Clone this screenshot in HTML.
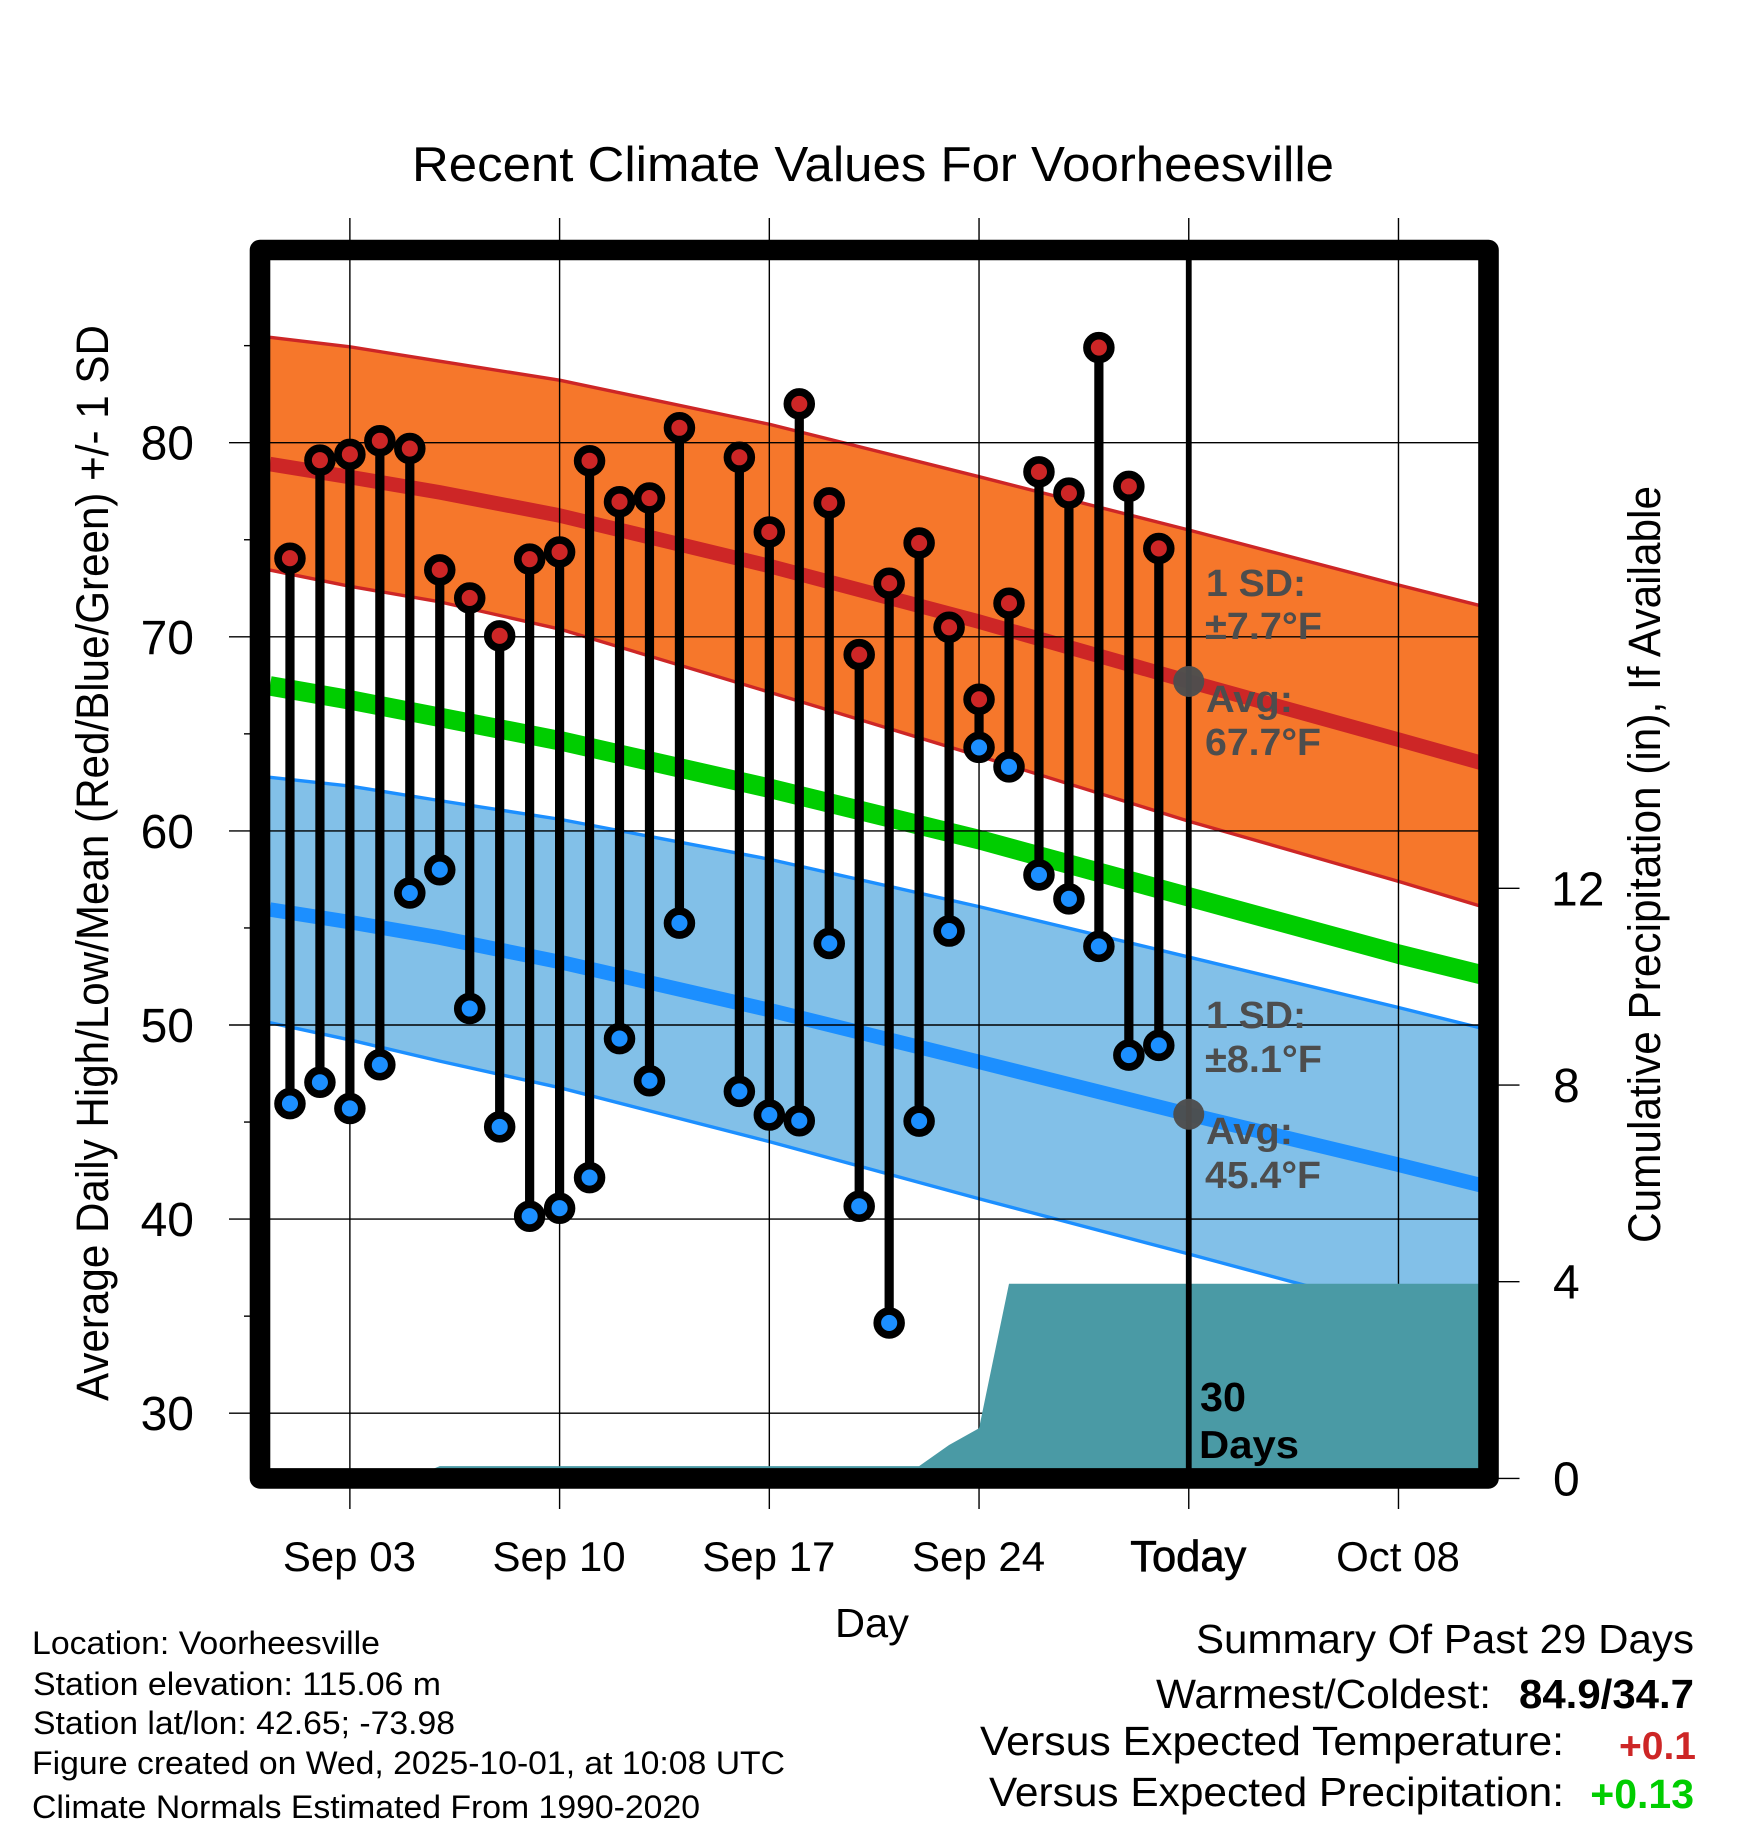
<!DOCTYPE html>
<html lang="en">
<head>
<meta charset="utf-8">
<title>Recent Climate Values For Voorheesville</title>
<style>
html,body{margin:0;padding:0;background:#fff;}
svg{display:block;}
text{font-family:"Liberation Sans",Arial,sans-serif;fill:#000;}
.b{font-weight:bold;}
.g{font-weight:bold;fill:#4d4d4d;font-size:38px;}
</style>
</head>
<body>
<svg id="chart" xmlns="http://www.w3.org/2000/svg" width="1748" height="1828" viewBox="0 0 1748 1828">
  <rect x="0" y="0" width="1748" height="1828" fill="#ffffff"/>
  <g id="plot"></g>

  <text x="412" y="181" font-size="49" textLength="922" lengthAdjust="spacingAndGlyphs">Recent Climate Values For Voorheesville</text>
  <text transform="translate(108 863) rotate(-90)" text-anchor="middle" font-size="45" textLength="1076" lengthAdjust="spacingAndGlyphs">Average Daily High/Low/Mean (Red/Blue/Green) +/- 1 SD</text>
  <text transform="translate(1660 864.5) rotate(-90)" text-anchor="middle" font-size="45" textLength="757" lengthAdjust="spacingAndGlyphs">Cumulative Precipitation (in), If Available</text>
  <text x="872" y="1637" text-anchor="middle" font-size="41" textLength="74" lengthAdjust="spacingAndGlyphs">Day</text>

  <text class="g" x="1206" y="596" textLength="100" lengthAdjust="spacingAndGlyphs">1 SD:</text>
  <text class="g" x="1205" y="639" textLength="117" lengthAdjust="spacingAndGlyphs">±7.7°F</text>
  <text class="g" x="1206" y="712" textLength="87" lengthAdjust="spacingAndGlyphs">Avg:</text>
  <text class="g" x="1205" y="755" textLength="116" lengthAdjust="spacingAndGlyphs">67.7°F</text>
  <text class="g" x="1206" y="1028" textLength="100" lengthAdjust="spacingAndGlyphs">1 SD:</text>
  <text class="g" x="1205" y="1072" textLength="117" lengthAdjust="spacingAndGlyphs">±8.1°F</text>
  <text class="g" x="1206" y="1144" textLength="87" lengthAdjust="spacingAndGlyphs">Avg:</text>
  <text class="g" x="1205" y="1188" textLength="116" lengthAdjust="spacingAndGlyphs">45.4°F</text>

  <text class="b" x="1200" y="1411" font-size="41" textLength="46" lengthAdjust="spacingAndGlyphs">30</text>
  <text class="b" x="1199" y="1458" font-size="39" textLength="100" lengthAdjust="spacingAndGlyphs">Days</text>

  <g>
    <text x="32" y="1654" font-size="32" textLength="348" lengthAdjust="spacingAndGlyphs">Location: Voorheesville</text>
    <text x="33" y="1695" font-size="32" textLength="408" lengthAdjust="spacingAndGlyphs">Station elevation: 115.06 m</text>
    <text x="33" y="1734" font-size="32" textLength="422" lengthAdjust="spacingAndGlyphs">Station lat/lon: 42.65; -73.98</text>
    <text x="32" y="1774" font-size="32" textLength="753" lengthAdjust="spacingAndGlyphs">Figure created on Wed, 2025-10-01, at 10:08 UTC</text>
    <text x="32" y="1818" font-size="32" textLength="668" lengthAdjust="spacingAndGlyphs">Climate Normals Estimated From 1990-2020</text>
  </g>

  <g>
    <text x="1196" y="1653" font-size="41" textLength="498" lengthAdjust="spacingAndGlyphs">Summary Of Past 29 Days</text>
    <text x="1156" y="1708" font-size="41" textLength="335" lengthAdjust="spacingAndGlyphs">Warmest/Coldest:</text>
    <text class="b" x="1519" y="1708" font-size="41" textLength="175" lengthAdjust="spacingAndGlyphs">84.9/34.7</text>
    <text x="980" y="1755" font-size="41" textLength="584" lengthAdjust="spacingAndGlyphs">Versus Expected Temperature:</text>
    <text class="b" x="1696" y="1759" font-size="39" text-anchor="end" style="fill:#cd2626">+0.1</text>
    <text x="989" y="1806" font-size="41" textLength="575" lengthAdjust="spacingAndGlyphs">Versus Expected Precipitation:</text>
    <text class="b" x="1694" y="1808" font-size="41" text-anchor="end" style="fill:#00cd00">+0.13</text>
  </g>
</svg>

<script>
// ---------- Chart data ----------
const obsDays = [1,2,3,4,5,6,7,8,9,10,11,12,13,14,16,17,18,19,20,21,22,23,24,25,26,27,28,29,30];
const obsHigh = [74.05,79.1,79.4,80.1,79.7,73.45,72,70.05,74,74.37,79.07,76.96,77.15,80.77,79.25,75.4,82,76.9,69.08,72.76,74.83,70.49,66.78,71.73,78.5,77.4,84.9,77.75,74.55];
const obsLow = [45.95,47.05,45.7,47.95,56.8,58,50.85,44.75,40.15,40.56,42.14,49.3,47.13,55.25,46.58,45.36,45.07,54.2,40.66,34.65,45.05,54.84,64.3,63.3,57.73,56.5,54.05,48.45,48.95];

const normalDays = [0.33,3,6,10,17,24,31,38,41];
const highUpper = [85.43,84.94,84.2,83.22,80.95,78.25,75.5,72.67,71.5];
const highMean = [78.9,78.23,77.44,76.25,73.65,70.78,67.7,64.7,63.4];
const highLower = [73.44,72.6,71.8,70.4,67.15,63.86,60.5,57.4,56.0];
const meanMean = [67.47,66.75,65.85,64.65,62.2,59.55,56.6,53.65,52.5];
const lowUpper = [62.76,62.31,61.56,60.6,58.54,56.1,53.5,50.9,49.75];
const lowMean = [55.95,55.3,54.5,53.25,50.77,48.1,45.4,42.8,41.65];
const lowLower = [50.12,49.23,48.14,46.77,43.99,41.05,38.2,35.3,34.1];

const precipDays = [0.33,5,6,22,23,24,25,41];
const precipValues = [0,0,0.25,0.25,0.68,1.02,3.96,3.96];

const xTickDays = [3,10,17,24,31,38];
const xTickLabels = ["Sep 03","Sep 10","Sep 17","Sep 24","Today","Oct 08"];
const yTickValues = [30,40,50,60,70,80];
const yMinorValues = [35,45,55,65,75,85];
const precipTickValues = [0,4,8,12];
const todayDay = 31;
const todayHighAvg = 67.7;
const todayLowAvg = 45.4;

// ---------- Axis functions ----------
function xScale(day){ return 260 + day * 29.96; }
function yScale(temp){ return 442.7 + (80 - temp) * 19.41; }
function pScale(inches){ return 1478.4 - inches * 49.17; }

const NS = 'http://www.w3.org/2000/svg';
const plot = document.getElementById('plot');
function make(tag, attrs){
  const e = document.createElementNS(NS, tag);
  for (const k in attrs) e.setAttribute(k, attrs[k]);
  plot.appendChild(e);
  return e;
}
function linePath(days, vals, scale){
  return days.map(function(d,i){ return (i ? 'L' : 'M') + xScale(d).toFixed(2) + ' ' + scale(vals[i]).toFixed(2); }).join(' ');
}
function bandPath(days, upper, lower){
  const rd = days.slice().reverse();
  const rl = lower.slice().reverse();
  return linePath(days, upper, yScale) + ' ' + linePath(rd, rl, yScale).replace('M','L') + ' Z';
}

let n;

// Bands
n = make('path', {d: bandPath(normalDays, highUpper, highLower), fill: '#f6772b'});


n = make('path', {d: bandPath(normalDays, lowUpper, lowLower), fill: '#82c0e8'});



// Thin band edges
n = make('path', {d: linePath(normalDays, highUpper, yScale), fill: 'none', stroke: '#cd2626', 'stroke-width': 3.4, 'stroke-linejoin': 'round'});


n = make('path', {d: linePath(normalDays, highLower, yScale), fill: 'none', stroke: '#cd2626', 'stroke-width': 3.4, 'stroke-linejoin': 'round'});


n = make('path', {d: linePath(normalDays, lowUpper, yScale), fill: 'none', stroke: '#1c8fff', 'stroke-width': 3.4, 'stroke-linejoin': 'round'});


n = make('path', {d: linePath(normalDays, lowLower, yScale), fill: 'none', stroke: '#1c8fff', 'stroke-width': 3.4, 'stroke-linejoin': 'round'});



// Mean lines
n = make('path', {d: linePath(normalDays, highMean, yScale), fill: 'none', stroke: '#cd2626', 'stroke-width': 14.5, 'stroke-linejoin': 'round'});


n = make('path', {d: linePath(normalDays, meanMean, yScale), fill: 'none', stroke: '#00cd00', 'stroke-width': 19.5, 'stroke-linejoin': 'round'});


n = make('path', {d: linePath(normalDays, lowMean, yScale), fill: 'none', stroke: '#1c8fff', 'stroke-width': 14.5, 'stroke-linejoin': 'round'});



// Gridlines, ticks, tick labels
yTickValues.forEach(function(v){
  const g = make('line', {x1: 229, x2: 1488, y1: yScale(v), y2: yScale(v), stroke: '#000', 'stroke-width': 1.4});
  
  
  const t = make('text', {x: 194, y: yScale(v) + 17, 'text-anchor': 'end', 'font-size': 48});
  t.textContent = String(v);
  
  
});
yMinorValues.forEach(function(v){
  const g = make('line', {x1: 244, x2: 260, y1: yScale(v), y2: yScale(v), stroke: '#000', 'stroke-width': 1.4});
  
  
});
xTickDays.forEach(function(d, i){
  const g = make('line', {x1: xScale(d), x2: xScale(d), y1: 218, y2: 1509, stroke: '#000', 'stroke-width': 1.4});
  
  
  const isToday = xTickLabels[i] === 'Today';
  const t = make('text', {x: xScale(d) - 0.5, y: 1571, 'text-anchor': 'middle', 'font-size': isToday ? 43.5 : 42});
  if (isToday) { t.setAttribute('stroke', '#000'); t.setAttribute('stroke-width', '0.7'); }
  t.textContent = xTickLabels[i];
  
  
});
precipTickValues.forEach(function(v){
  const g = make('line', {x1: 1488, x2: 1519.5, y1: pScale(v), y2: pScale(v), stroke: '#000', 'stroke-width': 1.4});
  
  
  const t = make('text', {x: v < 10 ? 1553 : 1551, y: pScale(v) + 17, 'font-size': 48});
  t.textContent = String(v);
  
  
});

// Cumulative precipitation area
const precipTop = linePath(precipDays, precipValues, pScale);
const precipArea = precipTop + ' L' + xScale(precipDays[precipDays.length - 1]).toFixed(2) + ' ' + pScale(0) + ' L' + xScale(precipDays[0]).toFixed(2) + ' ' + pScale(0) + ' Z';
n = make('path', {d: precipArea, fill: '#4a9aa5'});



// Observed range stems
obsDays.forEach(function(d, i){
  const s = make('line', {x1: xScale(d), x2: xScale(d), y1: yScale(obsHigh[i]), y2: yScale(obsLow[i]), stroke: '#000', 'stroke-width': 9.2});
  
  
});

// Today marker line
n = make('line', {x1: xScale(todayDay), x2: xScale(todayDay), y1: 250, y2: 1478, stroke: '#000', 'stroke-width': 5.8});



// Observed high/low points
obsDays.forEach(function(d, i){
  const hi = make('circle', {cx: xScale(d), cy: yScale(obsHigh[i]), r: 11.9, fill: '#cd2626', stroke: '#000', 'stroke-width': 7.7});
  
  
  const lo = make('circle', {cx: xScale(d), cy: yScale(obsLow[i]), r: 11.9, fill: '#1c8fff', stroke: '#000', 'stroke-width': 7.7});
  
  
});

// Today average dots
n = make('circle', {cx: xScale(todayDay), cy: yScale(todayHighAvg), r: 15.5, fill: '#4d4d4d', 'fill-opacity': 0.97});


n = make('circle', {cx: xScale(todayDay), cy: yScale(todayLowAvg), r: 15.5, fill: '#4d4d4d', 'fill-opacity': 0.97});



// Frame
n = make('rect', {x: 260, y: 250, width: 1228.5, height: 1228.4, fill: 'none', stroke: '#000', 'stroke-width': 20.6, 'stroke-linejoin': 'round'});


</script>
</body>
</html>
